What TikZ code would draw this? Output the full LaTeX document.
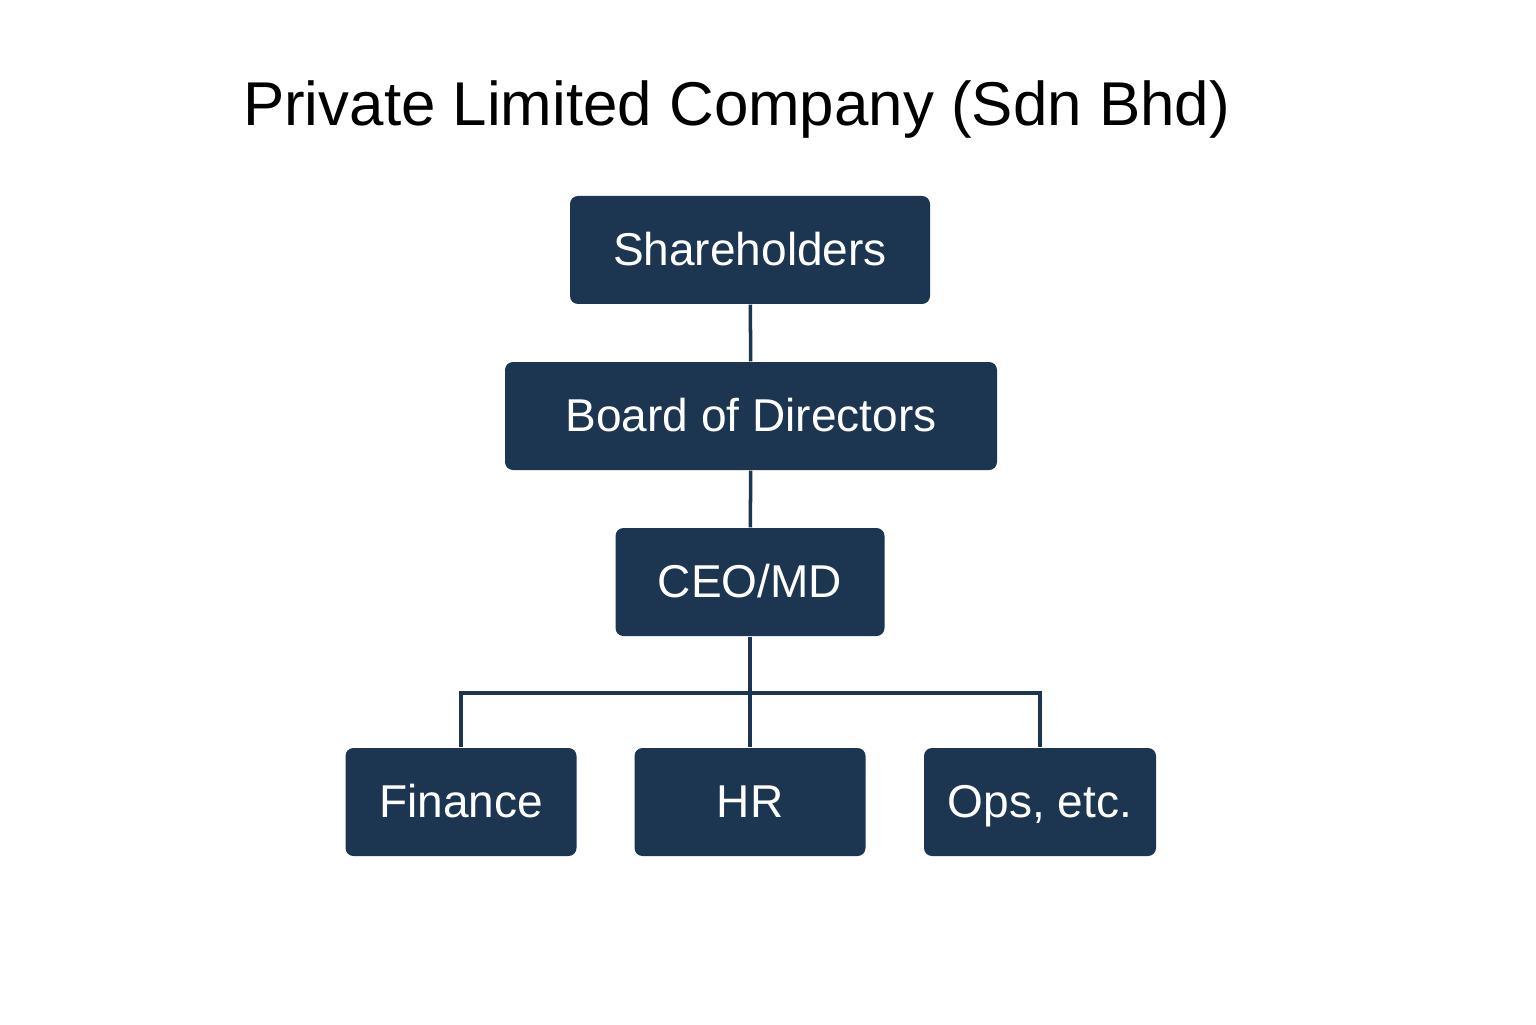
\documentclass[tikz,border=0pt]{standalone}
\usepackage{fontspec}
\setmainfont{Liberation Sans}
\definecolor{navy}{HTML}{1C3551}
\tikzset{
  caja/.style={fill=navy, rounded corners=0.08cm, text=white, font=\fontsize{13.1}{16}\selectfont, inner sep=0pt, minimum height=1.08cm, text height=0.88em, text depth=0pt},
  linea/.style={draw=navy, line width=1pt}
}
\begin{document}
\begin{tikzpicture}
        \useasboundingbox (0,0) rectangle (15.36,10.24);
        % Título
        \node (titulo) at (7.365,9.14) {\fontsize{17.6}{22}\selectfont Private Limited Company (Sdn Bhd)};
        % Cajas
        \node[caja, minimum width=3.6cm] (socios) at (7.50,7.74) {Shareholders};
        \node[caja, minimum width=4.92cm] (junta) at (7.51,6.08) {Board of Directors};
        \node[caja, minimum width=2.69cm] (ceo) at (7.50,4.42) {CEO/MD};
        \node[caja, minimum width=2.31cm] (fin) at (4.61,2.22) {Finance};
        \node[caja, minimum width=2.31cm] (rh) at (7.50,2.22) {HR};
        \node[caja, minimum width=2.32cm] (ops) at (10.40,2.22) {Ops, etc.};
        % Líneas
        \coordinate (bus) at (7.50,3.31);
        \draw[linea] (socios) -- (junta);
        \draw[linea] (junta) -- (ceo);
        \draw[linea] (ceo) -- (bus);
        \draw[linea] (fin.north) |- (bus) -| (ops.north);
        \draw[linea] (bus) -- (rh);
    \end{tikzpicture}
\end{document}
